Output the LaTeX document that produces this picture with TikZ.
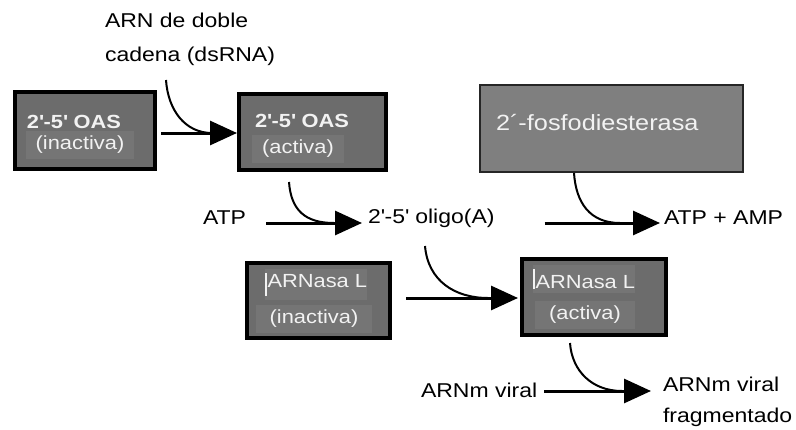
\documentclass[tikz,border=0pt]{standalone}
\usepackage{fontspec}
\setmainfont[FakeStretch=1.15]{Liberation Sans}
\usetikzlibrary{arrows.meta}
\definecolor{boxgray}{HTML}{6C6C6C}
\definecolor{boxlight}{HTML}{757575}
\definecolor{pdegray}{HTML}{7F7F7F}
\definecolor{boxtext}{HTML}{F2F2F2}
\begin{document}
\begin{tikzpicture}[x=1pt,y=-1pt,
  every node/.style={inner sep=0pt, outer sep=0pt},
  txt/.style={font=\fontsize{20}{24}\selectfont, text=black},
  intxt/.style={font=\fontsize{19}{23}\selectfont, text=boxtext},
  panel/.style={fill=boxlight, inner xsep=4pt, inner ysep=5pt},
  enzbox/.style={draw=black, line width=4.5pt, fill=boxgray, anchor=north west},
  pdebox/.style={draw=black!85, line width=1.5pt, fill=pdegray, anchor=north west},
  mainarrow/.style={line width=3pt, -{Triangle[length=27pt,width=24pt]}},
  feed/.style={line width=2pt}
]
\useasboundingbox (0,0) rectangle (796,429);

% enzyme boxes
\node[enzbox, minimum width=140pt, minimum height=77pt] (oasI) at (15,92) {};
\node[enzbox, minimum width=147pt, minimum height=76pt] (oasA) at (239,94) {};
\node[pdebox, minimum width=263pt, minimum height=87pt] (pde) at (480,85) {};
\node[enzbox, minimum width=143pt, minimum height=75pt] (rnlI) at (247,263) {};
\node[enzbox, minimum width=144pt, minimum height=76pt] (rnlA) at (522,259) {};

% box captions
\node[intxt, anchor=base west, font=\bfseries\fontsize{19}{23}\selectfont] (oasIa) at (27,128) {2\textquotesingle-5\textquotesingle\ OAS};
\node[intxt, panel, inner xsep=10pt] (oasIb) at (80,145) {(inactiva)};
\node[intxt, anchor=base west, font=\bfseries\fontsize{19}{23}\selectfont] (oasAa) at (255,127) {2\textquotesingle-5\textquotesingle\ OAS};
\node[intxt, panel, inner xsep=10pt] (oasAb) at (298,149) {(activa)};
\node[intxt, anchor=west, font=\fontsize{22}{26}\selectfont] (pdet) at (496,123) {2´-fosfodiesterasa};
\node[intxt, anchor=west, panel, inner xsep=0pt, inner ysep=4pt] (rnlIa) at (265,284) {\rule[-8pt]{2pt}{23pt}\kern0.5pt ARNasa L};
\node[intxt, panel, inner xsep=14pt] (rnlIb) at (314,319) {(inactiva)};
\node[intxt, anchor=west, panel, inner xsep=0pt, inner ysep=4pt] (rnlAa) at (533,279) {\rule[-1pt]{2pt}{20pt}\kern0.5pt ARNasa L};
\node[intxt, panel, inner xsep=14pt] (rnlAb) at (585,315) {(activa)};

% free labels
\node[txt, anchor=north west, align=left, font=\fontsize{20}{34}\selectfont] (ds) at (105,13) {ARN de doble\\cadena (dsRNA)};
\node[txt, anchor=west] (atp) at (203,218) {ATP};
\node[txt, anchor=west] (olig) at (368,218) {2\textquotesingle-5\textquotesingle\ oligo(A)};
\node[txt, anchor=west] (amp) at (664,218) {ATP + AMP};
\node[txt, anchor=west] (mrna) at (421,390) {ARNm viral};
\node[txt, anchor=north west, align=left, font=\fontsize{20}{31}\selectfont] (frag) at (663,377) {ARNm viral\\fragmentado};

% junction points where the side inputs join the main arrows
\coordinate (j1) at (212,133);
\coordinate (j2) at (334,223);
\coordinate (j3) at (620,223);
\coordinate (j4) at (488,298);
\coordinate (j5) at (622,391);

% starting points of the side inputs
\coordinate (s1) at (166,80);
\coordinate (s2) at (289,182);
\coordinate (s3) at (574,173);
\coordinate (s4) at (425,246);
\coordinate (s5) at (570,343);

% main reaction arrows
\draw[mainarrow] ([xshift=6pt]oasI.east |- j1) -- ([xshift=-2pt]oasA.west |- j1);
\draw[mainarrow] ([xshift=20pt]atp.east |- j2) -- ([xshift=-6pt]olig.west |- j2);
\draw[mainarrow] ([xshift=50pt]olig.east |- j3) -- ([xshift=-4pt]amp.west |- j3);
\draw[mainarrow] ([xshift=16pt]rnlI.east |- j4) -- ([xshift=-4pt]rnlA.west |- j4);
\draw[mainarrow] ([xshift=7pt]mrna.east |- j5) -- ([xshift=-12pt]frag.west |- j5);

% side inputs curving into the arrows
\draw[feed] (s1) .. controls +(2,30) and (185,133) .. (j1);
\draw[feed] (s2) .. controls +(2,28) and (305,223) .. (j2);
\draw[feed] (s3) .. controls +(2,30) and (590,223) .. (j3);
\draw[feed] (s4) .. controls +(3,35) and (455,298) .. (j4);
\draw[feed] (s5) .. controls +(2,28) and (592,391) .. (j5);
\end{tikzpicture}
\end{document}
